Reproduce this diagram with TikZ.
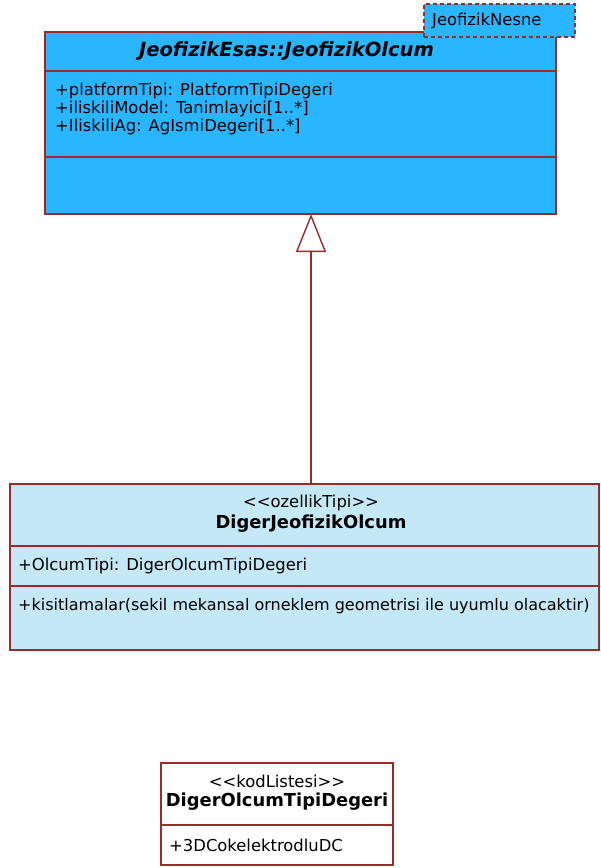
\documentclass[tikz,border=0pt]{standalone}
\usepackage{fontspec}
\setmainfont{DejaVu Sans}
\usetikzlibrary{arrows.meta}
\definecolor{bord}{HTML}{9A2B2B}
\definecolor{cyanfill}{HTML}{29B6FF}
\definecolor{lightfill}{HTML}{C4E8F6}
\newcommand{\lt}{\symbol{60}}
\newcommand{\gt}{\symbol{62}}
\tikzset{
  box/.style={draw=bord, line width=1.4pt, inner sep=0pt, outer sep=0pt, anchor=north west},
  sep/.style={draw=bord, line width=1.4pt},
  txt/.style={font=\fontsize{16.4}{18}\selectfont, inner sep=0pt, anchor=west, text=black},
  ctxt/.style={font=\fontsize{16.4}{18}\selectfont, inner sep=0pt, text=black},
  bname/.style={font=\fontsize{17.9}{20}\bfseries\selectfont, inner sep=0pt, text=black},
  gen/.style={draw=bord, line width=1.4pt, -{Triangle[open, length=38pt, width=30pt, fill=white]}}
}
\begin{document}
\begin{tikzpicture}[x=1pt,y=1pt]
\useasboundingbox (0,0) rectangle (601,-868);
% super class
\node[box, fill=cyanfill, minimum width=511pt, minimum height=182pt] (sup) at (45,-32) {};
\draw[sep] (45,-71) -- (556,-71);
\draw[sep] (45,-157) -- (556,-157);
\node[ctxt, font=\fontsize{19.5}{22}\bfseries\itshape\selectfont] (supname) at (286.5,-51) {JeofizikEsas::JeofizikOlcum};
\node[txt] (a1) at (55,-91) {+platformTipi: PlatformTipiDegeri};
\node[txt] (a2) at (55,-109) {+iliskiliModel: Tanimlayici[1..*]};
\node[txt] (a3) at (55,-127) {+IliskiliAg: AgIsmiDegeri[1..*]};
% package tag
\node[box, fill=cyanfill, dash pattern=on 4pt off 3pt, minimum width=151pt, minimum height=33pt] (pkg) at (424,-4) {};
\node[txt] (pkgname) at (432,-20.5) {JeofizikNesne};
% sub class
\node[box, fill=lightfill, minimum width=589pt, minimum height=166pt] (sub) at (10,-484) {};
\draw[sep] (10,-546) -- (599,-546);
\draw[sep] (10,-586) -- (599,-586);
\node[ctxt] (st1) at (311,-503) {\lt\lt ozellikTipi\gt\gt};
\node[bname] (subname) at (311,-524) {DigerJeofizikOlcum};
\node[txt] (b1) at (18,-566) {+OlcumTipi: DigerOlcumTipiDegeri};
\node[txt, font=\fontsize{16.0}{18}\selectfont] (b2) at (18,-606) {+kisitlamalar(sekil mekansal orneklem geometrisi ile uyumlu olacaktir)};
% code list
\node[box, fill=white, minimum width=232pt, minimum height=102pt] (code) at (161,-763) {};
\draw[sep] (161,-825) -- (393,-825);
\node[ctxt] (st2) at (277,-781) {\lt\lt kodListesi\gt\gt};
\node[bname] (codename) at (277,-802) {DigerOlcumTipiDegeri};
\node[txt] (c1) at (169,-845) {+3DCokelektrodluDC};
% generalization
\coordinate (ax) at (311,0);
\draw[gen] (sub.north -| ax) -- (sup.south -| ax);
\end{tikzpicture}
\end{document}
